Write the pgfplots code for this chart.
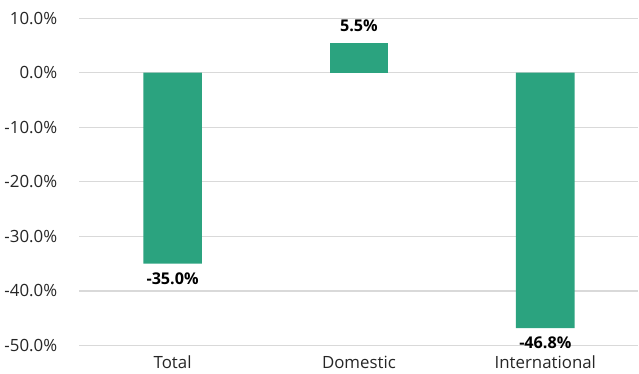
\documentclass[border=0pt]{standalone}
\usepackage{pgfplots}
\pgfplotsset{compat=1.18}
\usepackage{fontspec}
\setmainfont{Open Sans}
\definecolor{bargreen}{HTML}{2BA37F}
\definecolor{gridgray}{HTML}{D9D9D9}
\begin{document}
\begin{tikzpicture}
\begin{axis}[
  width=415pt, height=243pt, scale only axis,
  xmin=-0.5, xmax=2.5, ymin=-50, ymax=10,
  axis line style={draw=none},
  ytick={-50,-40,-30,-20,-10,0,10},
  yticklabels={-50.0\%,-40.0\%,-30.0\%,-20.0\%,-10.0\%,0.0\%,10.0\%},
  xtick={0,1,2},
  xticklabels={Total,Domestic,International},
  ymajorgrids, grid style={gridgray, line width=0.8pt},
  major tick length=0pt,
  tick label style={font=\fontsize{12.5}{14}\selectfont, text=black!85},
  yticklabel style={xshift=-13pt},
  xticklabel style={yshift=-4pt},
  ybar, bar width=43.5pt,
  point meta=explicit symbolic,
  nodes near coords,
  nodes near coords style={font=\bfseries\fontsize{12}{14}\selectfont, text=black},
  after end axis/.code={\path (rel axis cs:0,1) ++(0,13.5pt);},
]
\addplot[fill=bargreen, draw=none, bar shift=0pt,
  nodes near coords style={anchor=north, yshift=-3pt}] coordinates {
  (0,-35.0) [-35.0\%]
  (2,-46.8) [-46.8\%]
};
\addplot[fill=bargreen, draw=none, bar shift=0pt,
  nodes near coords style={anchor=south, yshift=5pt}] coordinates {
  (1,5.5) [5.5\%]
};
\end{axis}
\end{tikzpicture}
\end{document}
